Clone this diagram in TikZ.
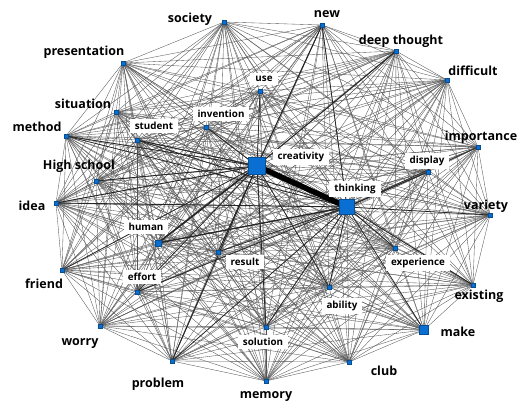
\documentclass[tikz,border=0pt]{standalone}
\usepackage{fontspec}
\setmainfont{Open Sans}
\usepackage{tikz}
\usetikzlibrary{calc, positioning}
\definecolor{netblue}{HTML}{0A6FD2}
\definecolor{netedge}{HTML}{555555}

\begin{document}
\begin{tikzpicture}[
  x=1pt, y=-1pt,
  dot/.style={draw=netblue!70!black, fill=netblue, line width=0.3pt, minimum size=3.6pt, inner sep=0pt},
  hub/.style={dot, minimum size=#1},
  outer/.style={font=\fontsize{12.5}{14}\selectfont\bfseries, inner sep=1pt},
  inner/.style={fill=white, font=\fontsize{9.8}{11}\selectfont\bfseries, inner xsep=5pt, inner ysep=3.5pt},
  edge/.style={netedge, line width=0.35pt},
  strong/.style={black!85, line width=#1}
]
\useasboundingbox (0,0) rectangle (523,403);

% word nodes
\node[dot] (society) at (224,22) {};
\node[dot] (new) at (322,25) {};
\node[dot] (deepthought) at (396,51) {};
\node[dot] (difficult) at (447,80) {};
\node[dot] (importance) at (478,147) {};
\node[dot] (display) at (428,172) {};
\node[dot] (variety) at (490,215) {};
\node[dot] (existing) at (473,285) {};
\node[hub=9pt] (make) at (424,330) {};
\node[dot] (club) at (349,362) {};
\node[dot] (memory) at (266,381) {};
\node[dot] (problem) at (172,361) {};
\node[dot] (worry) at (100,326) {};
\node[dot] (friend) at (62,270) {};
\node[dot] (idea) at (56,203) {};
\node[dot] (highschool) at (96,181) {};
\node[dot] (method) at (66,136) {};
\node[dot] (situation) at (116,112) {};
\node[dot] (presentation) at (123,63) {};
\node[dot] (student) at (137,140) {};
\node[dot] (invention) at (206,127) {};
\node[dot] (use) at (260,91) {};
\node[hub=17pt] (creativity) at (257,166) {};
\node[hub=15pt] (thinking) at (347,207) {};
\node[hub=6.5pt] (human) at (158,243) {};
\node[dot] (result) at (218,252) {};
\node[dot] (effort) at (137,292) {};
\node[dot] (experience) at (395,248) {};
\node[dot] (ability) at (329,287) {};
\node[dot] (solution) at (266,327) {};

% co-occurrence links
\foreach \a [count=\i] in {society,new,deepthought,difficult,importance,display,variety,existing,make,club,memory,problem,worry,friend,idea,highschool,method,situation,presentation,student,invention,use,creativity,thinking,human,result,effort,experience,ability,solution}{
  \foreach \b [count=\j] in {society,new,deepthought,difficult,importance,display,variety,existing,make,club,memory,problem,worry,friend,idea,highschool,method,situation,presentation,student,invention,use,creativity,thinking,human,result,effort,experience,ability,solution}{
    \ifnum\i<\j \draw[edge] (\a.center) -- (\b.center); \fi
  }
}

% heavier links
\foreach \a/\b/\w in {creativity/new/1, creativity/deepthought/1, creativity/student/0.9,
  creativity/method/0.8, creativity/highschool/0.8, creativity/idea/0.9,
  creativity/invention/0.8, creativity/problem/0.9, creativity/solution/0.8,
  creativity/ability/0.8, creativity/result/0.8, creativity/effort/0.7,
  creativity/use/0.7, creativity/friend/0.7,
  thinking/new/0.8, thinking/display/0.9, thinking/experience/0.9,
  thinking/existing/0.8, thinking/variety/0.7, thinking/ability/0.8,
  thinking/solution/0.8, thinking/idea/0.9, thinking/student/0.8,
  thinking/method/0.7, thinking/result/0.7, thinking/problem/0.7,
  thinking/effort/0.7, thinking/make/0.6, thinking/importance/0.6}
  \draw[strong=\w pt] (\a.center) -- (\b.center);
\draw[strong=1.6pt] (creativity.center) -- (human.center);
\draw[strong=1.3pt] (thinking.center) -- (human.center);
\draw[strong=5.5pt, black] (creativity.center) -- (thinking.center);

% redraw markers above the links
\foreach \n in {society,new,deepthought,difficult,importance,display,variety,existing,club,memory,problem,worry,friend,idea,highschool,method,situation,presentation,student,invention,use,result,effort,experience,ability,solution}
  \node[dot] at (\n) {};
\node[hub=9pt] at (make) {};
\node[hub=6.5pt] at (human) {};
\node[hub=17pt] at (creativity) {};
\node[hub=15pt] at (thinking) {};

% outer labels
\node[outer] (society-l) at (190,19) {society};
\node[outer] (new-l) at (327,14) {new};
\node[outer] (deepthought-l) at (401,41) {deep thought};
\node[outer] (difficult-l) at (473,71) {difficult};
\node[outer] (importance-l) at (481,137) {importance};
\node[outer] (variety-l) at (486,206) {variety};
\node[outer] (existing-l) at (479,296) {existing};
\node[outer] (make-l) at (458,332) {make};
\node[outer] (club-l) at (384,371) {club};
\node[outer] (memory-l) at (266,397) {memory};
\node[outer] (problem-l) at (158,384) {problem};
\node[outer] (worry-l) at (80,344) {worry};
\node[outer] (friend-l) at (44,284) {friend};
\node[outer] (idea-l) at (32,206) {idea};
\node[outer] (highschool-l) at (79,166) {High school};
\node[outer] (method-l) at (37,127) {method};
\node[outer] (situation-l) at (83,104) {situation};
\node[outer] (presentation-l) at (84,52) {presentation};

% boxed labels
\node[inner] (display-l) at (427,161) {display};
\node[inner] (student-l) at (154,126) {student};
\node[inner] (invention-l) at (221,114) {invention};
\node[inner] (use-l) at (264,79) {use};
\node[inner] (creativity-l) at (301,157) {creativity};
\node[inner] (thinking-l) at (355,189) {thinking};
\node[inner] (human-l) at (146,227) {human};
\node[inner] (result-l) at (245,262) {result};
\node[inner] (effort-l) at (142,277) {effort};
\node[inner] (experience-l) at (418,263) {experience};
\node[inner] (ability-l) at (342,306) {ability};
\node[inner] (solution-l) at (263,342) {solution};
\end{tikzpicture}
\end{document}
